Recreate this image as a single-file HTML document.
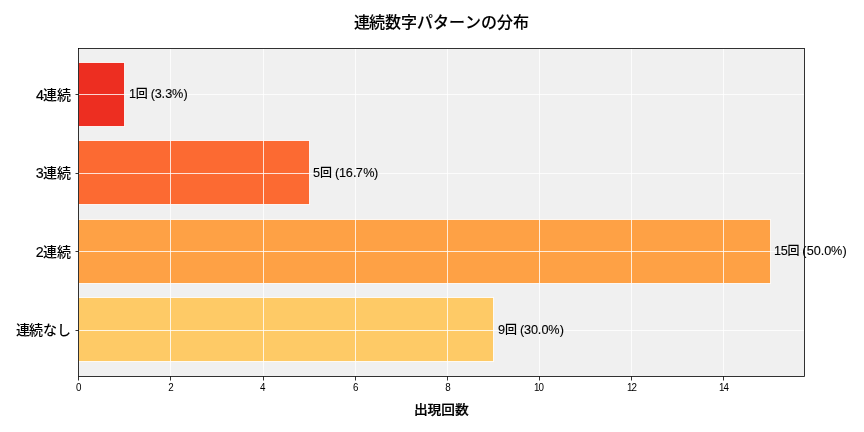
<!DOCTYPE html>
<html lang="ja"><head><meta charset="utf-8"><title>連続数字パターンの分布</title>
<style>
html,body{margin:0;padding:0;background:#fff;}
body{width:864px;height:432px;overflow:hidden;}
svg{display:block;}
text{font-family:"Liberation Sans","Noto Sans CJK JP",sans-serif;fill:#000;font-kerning:none;}
</style></head><body>
<svg width="864" height="432" viewBox="0 0 864 432">
<rect x="0" y="0" width="864" height="432" fill="#ffffff"/>
<rect x="78.5" y="48.5" width="726" height="328" fill="#f0f0f0"/>
<g stroke="#ffffff" stroke-opacity="0.85" stroke-width="1">
<rect x="78.5" y="297.5" width="415" height="64" fill="#feca66"/>
<rect x="78.5" y="219.5" width="692" height="64" fill="#fea145"/>
<rect x="78.5" y="140.5" width="231" height="64" fill="#fc6a32"/>
<rect x="78.5" y="62.5" width="46" height="64" fill="#ed2e21"/>
</g>
<g stroke="#ffffff" stroke-opacity="0.8" stroke-width="1" fill="none">
<line x1="170.5" y1="48.5" x2="170.5" y2="376.5"/>
<line x1="263.5" y1="48.5" x2="263.5" y2="376.5"/>
<line x1="355.5" y1="48.5" x2="355.5" y2="376.5"/>
<line x1="447.5" y1="48.5" x2="447.5" y2="376.5"/>
<line x1="539.5" y1="48.5" x2="539.5" y2="376.5"/>
<line x1="631.5" y1="48.5" x2="631.5" y2="376.5"/>
<line x1="723.5" y1="48.5" x2="723.5" y2="376.5"/>
<line x1="78.5" y1="330.5" x2="804.5" y2="330.5"/>
<line x1="78.5" y1="251.5" x2="804.5" y2="251.5"/>
<line x1="78.5" y1="173.5" x2="804.5" y2="173.5"/>
<line x1="78.5" y1="94.5" x2="804.5" y2="94.5"/>
</g>
<g stroke="#000000" stroke-width="0.8" fill="none">
<line x1="78.5" y1="376.5" x2="78.5" y2="380.5"/>
<line x1="170.5" y1="376.5" x2="170.5" y2="380.5"/>
<line x1="263.5" y1="376.5" x2="263.5" y2="380.5"/>
<line x1="355.5" y1="376.5" x2="355.5" y2="380.5"/>
<line x1="447.5" y1="376.5" x2="447.5" y2="380.5"/>
<line x1="539.5" y1="376.5" x2="539.5" y2="380.5"/>
<line x1="631.5" y1="376.5" x2="631.5" y2="380.5"/>
<line x1="723.5" y1="376.5" x2="723.5" y2="380.5"/>
<line x1="75.5" y1="330.5" x2="78.5" y2="330.5"/>
<line x1="75.5" y1="251.5" x2="78.5" y2="251.5"/>
<line x1="75.5" y1="173.5" x2="78.5" y2="173.5"/>
<line x1="75.5" y1="94.5" x2="78.5" y2="94.5"/>
<rect x="78.5" y="48.5" width="726" height="328"/>
</g>
<g font-size="10" text-anchor="middle">
<text transform="translate(78.75,391) scale(0.98,1.14)">0</text>
<text transform="translate(170.86,391) scale(0.98,1.14)">2</text>
<text transform="translate(262.76,391) scale(0.98,1.14)">4</text>
<text transform="translate(355.74,391) scale(0.98,1.14)">6</text>
<text transform="translate(447.86,391) scale(0.98,1.14)">8</text>
<text transform="translate(538.95,391) scale(0.98,1.14)" dx="0 -1.02">10</text>
<text transform="translate(632.02,391) scale(0.98,1.14)" dx="0 -0.88">12</text>
<text transform="translate(724.0,391) scale(0.98,1.14)" dx="0 -1.05">14</text>
</g>
<g font-size="14" font-weight="500">
<text transform="translate(70.9,335) scale(1.0,1.0)" text-anchor="end" dx="0 -1">連続なし</text>
<text transform="translate(70.9,257) scale(1.0,1.0)" x="-35.06 -28.0 -14.0"><tspan font-size="14.3" stroke="#000" stroke-width="0.15">2</tspan>連続</text>
<text transform="translate(70.9,178) scale(1.0,1.0)" x="-35.08 -28.0 -14.0"><tspan font-size="14.3" stroke="#000" stroke-width="0.15">3</tspan>連続</text>
<text transform="translate(70.9,100) scale(1.0,1.0)" x="-34.92 -28.0 -14.0"><tspan font-size="14.3" stroke="#000" stroke-width="0.15">4</tspan>連続</text>
</g>
<g font-size="12" font-weight="500">
<text transform="translate(498,334)" x="-0.03 6.88 18.88 21.94 26.01 32.96 39.71 43.4 50.35 61.67"><tspan font-size="12.7" stroke="#000" stroke-width="0.1">9</tspan>回<tspan font-size="12.7" stroke="#000" stroke-width="0.1"> (30.0%)</tspan></text>
<text transform="translate(774,255)" x="-0.01 6.75 13.62 25.62 28.33 32.72 39.66 46.79 50.16 57.07 68.41"><tspan font-size="12.7" stroke="#000" stroke-width="0.1">15</tspan>回<tspan font-size="12.7" stroke="#000" stroke-width="0.1"> (50.0%)</tspan></text>
<text transform="translate(313.2,177)" x="-0.27 6.88 18.88 21.69 25.7 32.55 39.84 42.64 49.97 60.87"><tspan font-size="12.7" stroke="#000" stroke-width="0.1">5</tspan>回<tspan font-size="12.7" stroke="#000" stroke-width="0.1"> (16.7%)</tspan></text>
<text transform="translate(129,98)" x="-0.0 6.75 18.75 21.68 25.81 32.54 36.2 43.07 54.4"><tspan font-size="12.7" stroke="#000" stroke-width="0.1">1</tspan>回<tspan font-size="12.7" stroke="#000" stroke-width="0.1"> (3.3%)</tspan></text>
</g>
<text transform="translate(441.5,28.0) scale(1.0,1.0)" font-size="16" font-weight="500" text-anchor="middle" dx="0 -1" stroke="#000" stroke-width="0.1">連続数字パターンの分布</text>
<text transform="translate(441.3,414.0) scale(0.98,0.92)" font-size="14" font-weight="500" text-anchor="middle" stroke="#000" stroke-width="0.25">出現回数</text>
</svg></body></html>
